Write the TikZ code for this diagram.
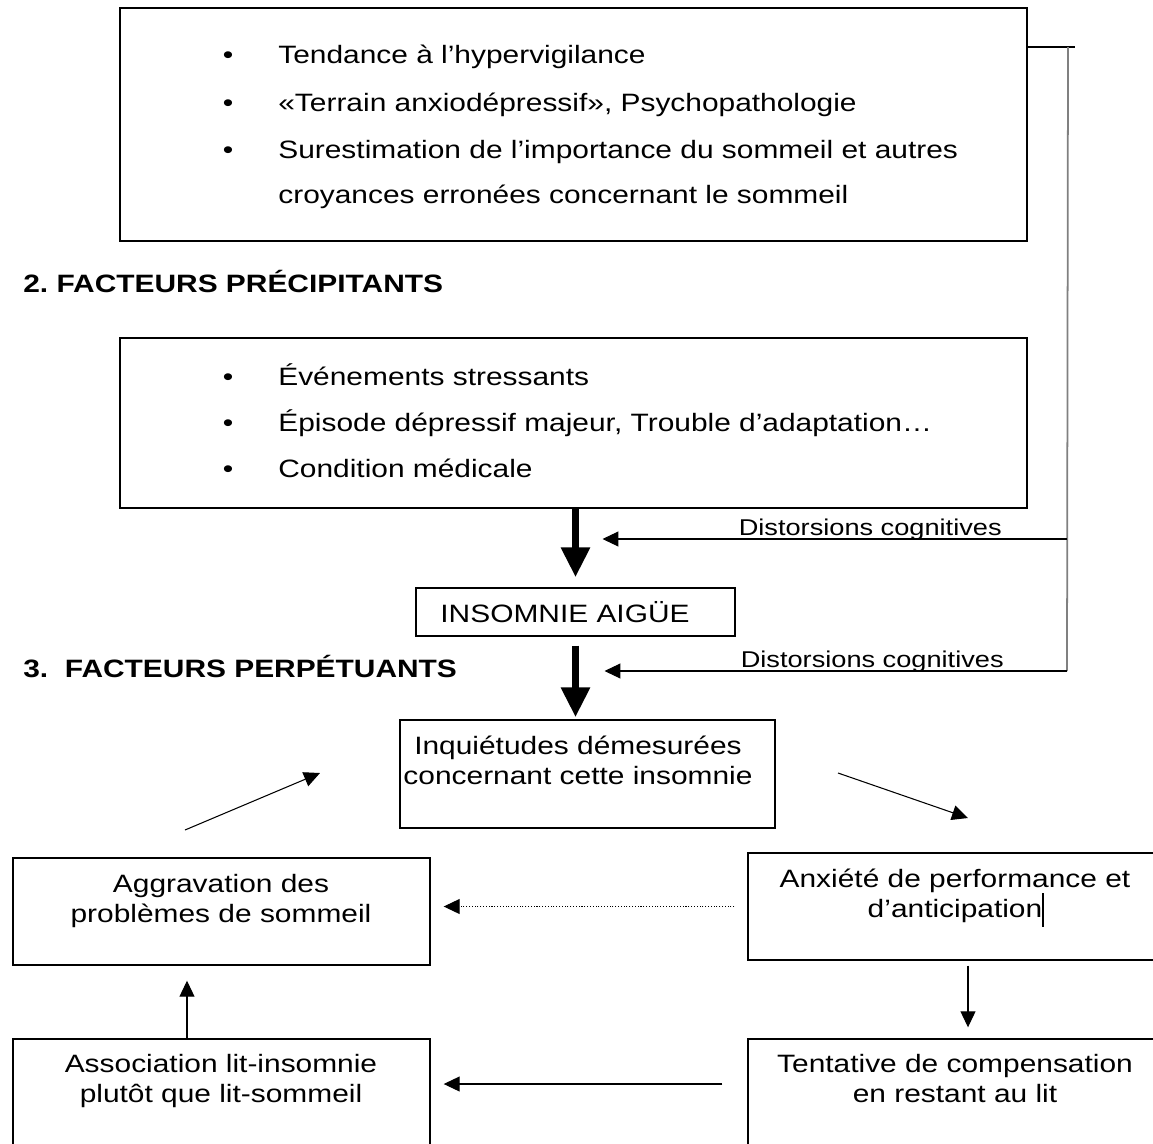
\documentclass[tikz,border=0pt]{standalone}
\usepackage{fontspec}
\setmainfont{Liberation Sans}[FakeStretch=1.19]
\usetikzlibrary{positioning, arrows.meta, fit}

\newcommand{\taille}{\fontsize{14.3}{17}\selectfont}

\tikzset{
    boite/.style={draw, line width=0.8pt, inner sep=0pt},
    ligne/.style={anchor=base west, inner sep=0pt, font=\taille},
    puce/.style={anchor=base, inner sep=0pt, font=\taille},
    titre/.style={anchor=base west, inner sep=0pt, font=\taille\bfseries},
    bloc/.style={anchor=base, align=center, inner sep=0pt, font=\taille},
    petit/.style={anchor=base east, inner sep=0pt, font=\fontsize{13}{15}\selectfont},
    fleche/.style={line width=0.6pt, -{Triangle[length=0.32cm, width=0.3cm]}},
    grossefleche/.style={line width=0.15cm, -{Triangle[length=0.6cm, width=0.55cm]}},
}

\begin{document}
\begin{tikzpicture}[x=0.02cm, y=-0.02cm]
    \useasboundingbox (0,0) rectangle (1153,1143);
    \clip (0,0) rectangle (1153,1143);

    % Cadre 1
    \node[boite, fit={(120,8) (1027,241)}] (predisp) {};
    \foreach \y/\txt [count=\i] in {63/{Tendance à l’hypervigilance},
                                    111/{«Terrain anxiodépressif», Psychopathologie},
                                    158/{Surestimation de l’importance du sommeil et autres}} {
        \node[puce] (p1-\i) at (228,\y) {•};
        \node[ligne] (l1-\i) at (278,\y) {\txt};
    }
    \node[ligne] (l1-4) at (278,203) {croyances erronées concernant le sommeil};

    % 2. Facteurs précipitants
    \node[titre] (titre2) at (23,292) {2.\ FACTEURS PRÉCIPITANTS};
    \node[boite, fit={(120,338) (1027,508)}] (precip) {};
    \foreach \y/\txt [count=\i] in {385/{Événements stressants},
                                    431/{Épisode dépressif majeur, Trouble d’adaptation…},
                                    477/{Condition médicale}} {
        \node[puce] (p2-\i) at (228,\y) {•};
        \node[ligne] (l2-\i) at (278,\y) {\txt};
    }

    % Insomnie aiguë
    \node[boite, fit={(416,588) (735,636)}] (aigue) {};
    \node[anchor=base, inner sep=0pt, font=\taille] (t-aigue) at (565,622) {INSOMNIE AIGÜE};

    % Crochet et distorsions cognitives
    \coordinate (hautg) at (1068,47);
    \coordinate (crochet) at (1075,47);
    \coordinate (dist1) at (1067,539);
    \coordinate (dist2) at (1067,671);
    \draw[line width=0.6pt] (predisp.east |- hautg) -- (crochet);
    \draw[gray, line width=1pt] (hautg) -- (dist2);
    \draw[fleche, shorten >=0.54cm] (dist1) -- (dist1 -| aigue.north);
    \draw[fleche, shorten >=0.58cm] (dist2) -- (dist2 -| aigue.north);
    \node[petit] (dc1) at (1002,535) {Distorsions cognitives};
    \node[petit] (dc2) at (1004,667) {Distorsions cognitives};

    % 3. Facteurs perpétuants
    \node[titre] (titre3) at (23,677) {3.\ \ FACTEURS PERPÉTUANTS};
    \node[boite, fit={(400,720) (775,828)}] (inquiet) {};
    \node[bloc] (t-inquiet) at (578,784) {Inquiétudes démesurées\\concernant cette insomnie};

    \draw[grossefleche, shorten >=0.2cm] (precip.south -| aigue.north) -- (aigue.north);
    \draw[grossefleche, shorten <=0.18cm, shorten >=0.04cm] (aigue.south) -- (aigue.south |- inquiet.north);

    % Cercle vicieux
    \node[boite, fit={(13,858) (430,965)}] (aggrav) {};
    \node[boite, fit={(748,853) (1162,960)}] (anxiete) {};
    \node[boite, fit={(748,1039) (1162,1200)}] (tentative) {};
    \node[boite, fit={(13,1039) (430,1200)}] (assoc) {};
    \node[bloc] (t-aggrav) at (221,922) {Aggravation des\\problèmes de sommeil};
    \node[bloc] (t-anxiete) at (955,917) {Anxiété de performance et\\d’anticipation};
    \node[bloc] (t-tentative) at (955,1102) {Tentative de compensation\\en restant au lit};
    \node[bloc] (t-assoc) at (221,1102) {Association lit-insomnie\\plutôt que lit-sommeil};
    \draw[line width=0.6pt] (1043,893) -- (1043,927);

    \coordinate (g-bas) at (185,830);
    \coordinate (g-haut) at (320,773);
    \coordinate (d-haut) at (838,773);
    \coordinate (d-bas) at (968,818);
    \draw[fleche] (g-bas) -- (g-haut);
    \draw[fleche] (d-haut) -- (d-bas);
    \draw[fleche, densely dotted, shorten <=0.26cm, shorten >=0.26cm] (anxiete.west) -- (aggrav.east |- anxiete.west);
    \draw[fleche, shorten <=0.1cm, shorten >=0.22cm] (anxiete.south -| d-bas) -- (tentative.north -| d-bas);
    \draw[fleche, shorten <=0.5cm, shorten >=0.26cm] (tentative.west |- 0,1084) -- (assoc.east |- 0,1084);
    \draw[fleche, shorten >=0.3cm] (assoc.north -| 187,0) -- (aggrav.south -| 187,0);
\end{tikzpicture}
\end{document}
